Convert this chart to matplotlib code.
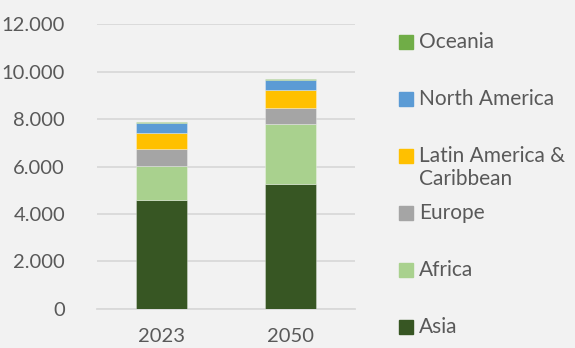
import numpy as np
import matplotlib.pyplot as plt
from matplotlib.patches import Rectangle

# Population by region (millions)
years = ["2023", "2050"]
regions = ["Asia", "Africa", "Europe", "Latin America &\nCaribbean",
           "North America", "Oceania"]
asia = [4575, 5275]
africa = [1450, 2505]
europe = [730, 700]
latam = [675, 760]
north_america = [395, 395]
oceania = [55, 55]
series = [asia, africa, europe, latam, north_america, oceania]
colors = ["#375623", "#A9D18E", "#A5A5A5", "#FFC000", "#5B9BD5", "#70AD47"]

bg = "#F2F2F2"
txt = "#595959"
W, H = 575, 348

plt.rcParams['font.family'] = ['Lato', 'DejaVu Sans']

fig = plt.figure(figsize=(W / 100, H / 100), dpi=100, facecolor=bg)
ax = fig.add_axes([97 / W, 1 - 308.7 / H, 258 / W, (308.7 - 24.3) / H])
ax.set_facecolor(bg)

x = np.arange(len(years))
bottom = np.zeros(len(years))
for vals, c in zip(series, colors):
    ax.bar(x, vals, width=0.4, bottom=bottom, color=c,
           edgecolor=(1, 1, 1, 0.35), linewidth=0.6, zorder=3)
    bottom += np.array(vals)

ax.set_xlim(-0.5, 1.5)
ax.set_ylim(0, 12000)
ax.set_yticks(np.arange(0, 12001, 2000))
ax.set_yticklabels([f"{v:,}".replace(",", ".") for v in range(0, 12001, 2000)])
ax.set_xticks(x)
ax.set_xticklabels(years)
ax.grid(axis='y', color="#D9D9D9", linewidth=1.3, zorder=0)
for s in ["top", "right", "left"]:
    ax.spines[s].set_visible(False)
ax.spines["bottom"].set_color("#D9D9D9")
ax.spines["bottom"].set_linewidth(1.3)
ax.tick_params(length=0, labelsize=14.5, labelcolor=txt)
ax.tick_params(axis='y', pad=23)
ax.tick_params(axis='x', pad=14)

# legend drawn by hand, top entry first
ys = [42, 99, 156, 213, 270, 327]
for name, c, yp in zip(regions[::-1], colors[::-1], ys):
    fig.patches.append(Rectangle((399 / W, 1 - (yp + 7) / H), 14 / W, 14 / H,
                                 transform=fig.transFigure, color=c))
    fig.text(419 / W, 1 - (yp - 10) / H, name, fontsize=15, color=txt,
             va='top', ha='left', linespacing=1.2)

fig.savefig("out.png", dpi=100, facecolor=bg)
